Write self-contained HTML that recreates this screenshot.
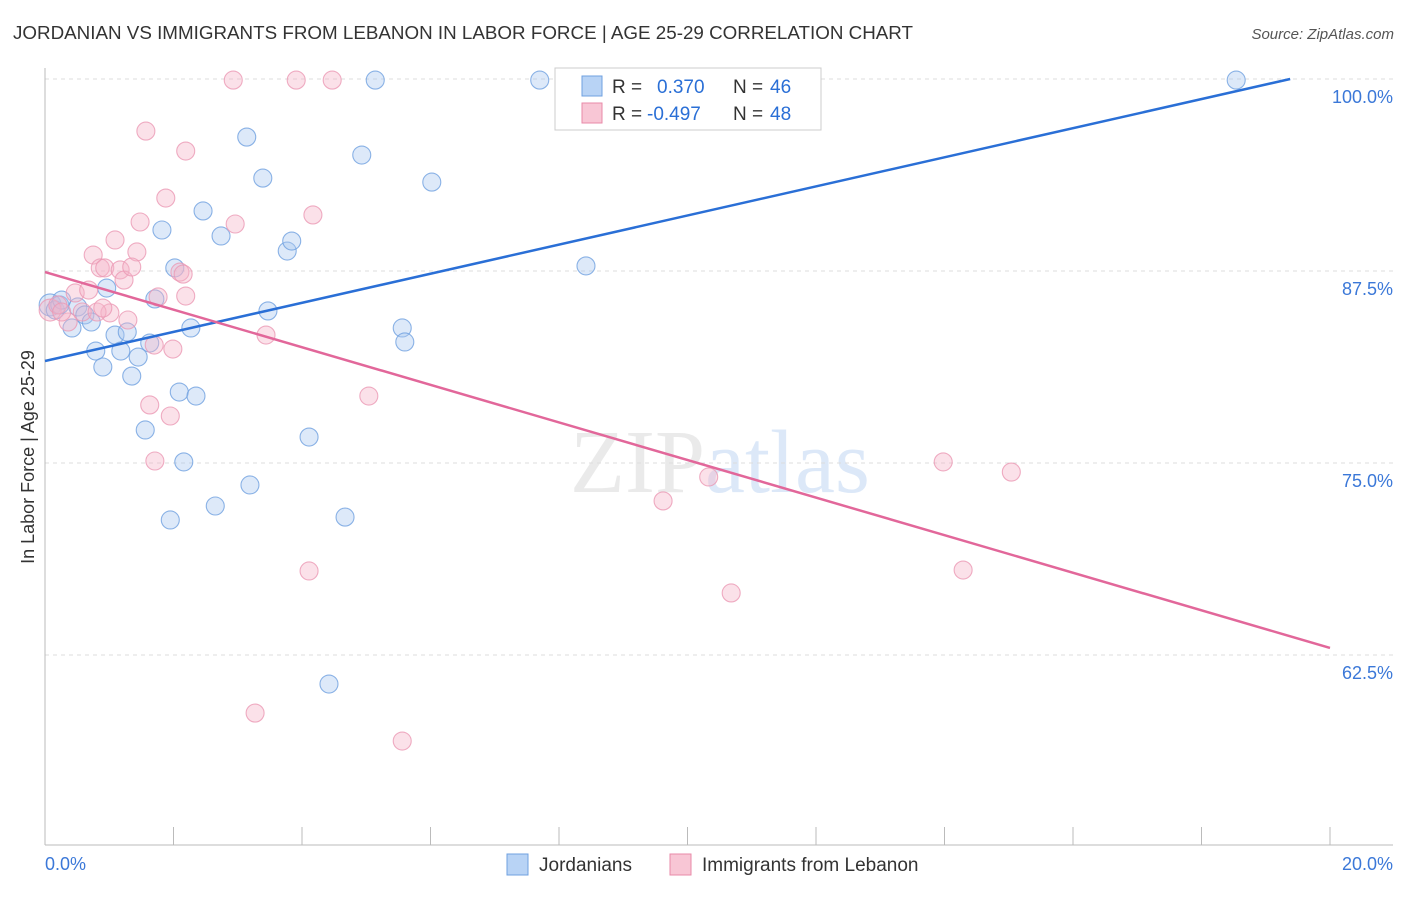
<!DOCTYPE html>
<html><head><meta charset="utf-8"><style>
body{margin:0;background:#fff;font-family:"Liberation Sans",sans-serif}
</style></head><body>
<svg width="1406" height="892" xmlns="http://www.w3.org/2000/svg" font-family="Liberation Sans, sans-serif">
<text x="13" y="39" font-size="18" fill="#333" textLength="900" lengthAdjust="spacingAndGlyphs">JORDANIAN VS IMMIGRANTS FROM LEBANON IN LABOR FORCE | AGE 25-29 CORRELATION CHART</text>
<text x="1394" y="39" font-size="15" fill="#555" text-anchor="end" font-style="italic">Source: ZipAtlas.com</text>
<text x="720" y="492" font-size="90" text-anchor="middle" fill="#ccc" opacity="0.4" font-family="Liberation Serif, serif">ZIP<tspan fill="#a9c8f0">atlas</tspan></text>
<text transform="translate(34,457) rotate(-90)" font-size="18" fill="#333" text-anchor="middle">In Labor Force | Age 25-29</text>
<g id="grid"></g>
<g id="marks"></g>
<g>
<rect x="555" y="68" width="266" height="62" fill="#fff" stroke="#ccc"/>
<rect x="582" y="76" width="20" height="20" fill="#b8d3f5" stroke="#6fa0e0"/>
<rect x="582" y="103" width="20" height="20" fill="#f8c6d5" stroke="#e88aa8"/>
<text x="612" y="93" font-size="19" fill="#333">R =</text>
<text x="657" y="93" font-size="19" fill="#2a6fd6">0.370</text>
<text x="733" y="93" font-size="19" fill="#333">N =</text>
<text x="770" y="93" font-size="19" fill="#2a6fd6">46</text>
<text x="612" y="120" font-size="19" fill="#333">R =</text>
<text x="647" y="120" font-size="19" fill="#2a6fd6">-0.497</text>
<text x="733" y="120" font-size="19" fill="#333">N =</text>
<text x="770" y="120" font-size="19" fill="#2a6fd6">48</text>
</g>
<g>
<rect x="507" y="854" width="21" height="21" fill="#b8d3f5" stroke="#6fa0e0"/>
<text x="539" y="871" font-size="19" fill="#333">Jordanians</text>
<rect x="670" y="854" width="21" height="21" fill="#f8c6d5" stroke="#e88aa8"/>
<text x="702" y="871" font-size="19" fill="#333">Immigrants from Lebanon</text>
</g>
</svg>
<script>
const yTicks=[100,87.5,75,62.5];
const yTickLabels=["100.0%","87.5%","75.0%","62.5%"];
const xTickLabels=["0.0%","20.0%"];
const blueX=[.08,.16,.23,.26,.42,.51,.62,.72,.79,.90,.96,1.09,1.18,1.28,1.35,1.45,1.56,1.63,1.71,1.82,1.95,2.02,2.09,2.16,2.27,2.35,2.46,2.65,2.74,3.14,3.19,3.39,3.47,3.77,3.84,4.11,4.42,4.67,4.93,5.14,5.56,5.60,6.02,7.70,8.42,18.54];
const blueY=[85.29,84.96,85.29,85.61,83.79,85.16,84.64,84.18,82.29,81.25,86.39,83.33,82.29,83.53,80.66,81.90,77.15,82.81,85.68,90.17,71.29,87.70,79.62,75.07,83.79,79.36,91.41,72.20,89.78,96.22,73.57,93.55,84.90,88.80,89.45,76.69,60.61,71.48,95.05,99.93,83.79,82.88,93.29,99.93,87.83,99.93];
const pinkX=[.08,.20,.36,.47,.58,.68,.75,.86,.93,1.01,1.09,1.17,1.23,1.29,1.43,1.48,1.57,1.63,1.71,1.76,1.88,1.95,1.99,2.10,2.15,2.19,2.93,2.96,3.27,3.44,3.91,4.11,4.17,4.47,5.04,5.56,9.62,10.33,10.68,13.98,14.29,15.04,1.35,.81,.26,1.70,2.19,.90];
const pinkY=[84.96,85.29,84.18,86.07,84.83,86.26,88.54,87.70,87.70,84.77,89.52,87.57,86.91,84.31,88.74,90.69,96.61,78.78,75.13,85.81,92.25,78.06,82.42,87.43,87.30,95.31,99.93,90.56,58.72,83.33,99.93,67.97,91.15,99.93,79.36,56.90,72.53,74.09,66.54,75.07,68.03,74.41,87.76,84.83,84.83,82.68,85.87,85.09];
const blueTrend=[[0,81.64],[19.38,100]];
const pinkTrend=[[0,87.43],[20,62.96]];
const NS="http://www.w3.org/2000/svg";
const X=v=>45+v*64.25, Y=v=>79+(100-v)*15.36;
function mk(t,a,p){const e=document.createElementNS(NS,t);for(const k in a)e.setAttribute(k,a[k]);p.appendChild(e);return e;}
const g=document.getElementById('grid'), m=document.getElementById('marks');
yTicks.forEach((t,i)=>{
 const l=mk('line',{x1:45,x2:1393,y1:Y(t),y2:Y(t),stroke:'#ddd','stroke-dasharray':'4,4'},g);
 
 
 const tx=mk('text',{x:1393,y:Y(t)+24,'font-size':18,fill:'#3b78d8','text-anchor':'end'},g);
 tx.textContent=yTickLabels[i];
 
 
});
const ax=mk('line',{x1:45,x2:1393,y1:845,y2:845,stroke:'#bbb'},g);


const ay=mk('line',{x1:45,x2:45,y1:68,y2:845,stroke:'#bbb'},g);


for(let i=1;i<=10;i++){const t=mk('line',{x1:X(i*2),x2:X(i*2),y1:827,y2:845,stroke:'#bbb'},g);
 
 }
[[0,'start',45],[20,'end',1393]].forEach((d,i)=>{const t=mk('text',{x:d[2],y:870,'font-size':18,fill:'#3b78d8','text-anchor':d[1]},g);t.textContent=xTickLabels[i];
 
 });
function pts(xs,ys,fill,stroke,name){xs.forEach((x,i)=>{const c=mk('circle',{cx:X(x),cy:Y(ys[i]),r:i==0?11:9,fill:fill,'fill-opacity':0.4,stroke:stroke,'stroke-opacity':0.8,'stroke-width':1.1},m);
 
 });}
pts(blueX,blueY,'#a9c8f0','#6fa0e0','jordanian-point');
pts(pinkX,pinkY,'#f5b5c8','#eb98b4','lebanon-point');
const bl=mk('line',{x1:X(blueTrend[0][0]),y1:Y(blueTrend[0][1]),x2:X(blueTrend[1][0]),y2:Y(blueTrend[1][1]),stroke:'#2a6fd6','stroke-width':2.5},m);


const pl=mk('line',{x1:X(pinkTrend[0][0]),y1:Y(pinkTrend[0][1]),x2:X(pinkTrend[1][0]),y2:Y(pinkTrend[1][1]),stroke:'#e2679a','stroke-width':2.5},m);


</script>
</body></html>
